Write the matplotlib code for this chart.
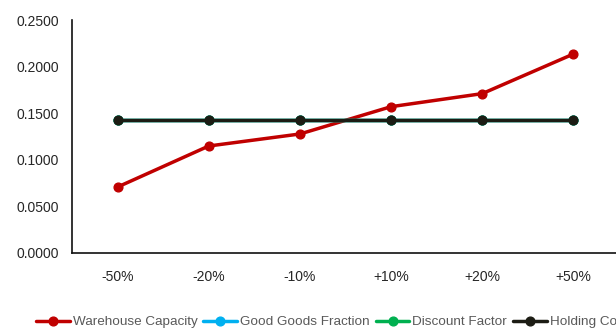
import matplotlib
matplotlib.use("Agg")
import matplotlib.pyplot as plt
from matplotlib.ticker import FormatStrFormatter

plt.rcParams['font.family'] = ['Liberation Sans', 'DejaVu Sans']

categories = ["-50%", "-20%", "-10%", "+10%", "+20%", "+50%"]
warehouse_capacity = [0.0708, 0.1148, 0.1277, 0.1570, 0.1710, 0.2135]
good_goods_fraction = [0.1425, 0.1425, 0.1425, 0.1425, 0.1425, 0.1425]
discount_factor = [0.1425, 0.1425, 0.1425, 0.1425, 0.1425, 0.1425]
holding_cost = [0.1425, 0.1425, 0.1425, 0.1425, 0.1425, 0.1425]

series = [
    ("Warehouse Capacity", warehouse_capacity, "#C00000"),
    ("Good Goods Fraction", good_goods_fraction, "#00B0F0"),
    ("Discount Factor", discount_factor, "#00B050"),
    ("Holding Cost", holding_cost, "#1C1C14"),
]

fig = plt.figure(figsize=(6.16, 3.29), dpi=100)
ax = fig.add_axes([72/616, 1-253/329, (619-72)/616, (253-20)/329])

x = list(range(len(categories)))
for name, vals, col in series:
    ax.plot(x, vals, color=col, lw=2.5, marker='o', ms=6.3, label=name,
            solid_capstyle='round', clip_on=False)

ax.set_xlim(-0.5, len(categories) - 0.5)
ax.set_ylim(0, 0.25)
ax.set_yticks([0, 0.05, 0.10, 0.15, 0.20, 0.25])
ax.yaxis.set_major_formatter(FormatStrFormatter('%.4f'))
ax.set_xticks(x)
ax.set_xticklabels(categories)
ax.tick_params(axis='both', length=0, labelsize=10, colors='#262626')
ax.tick_params(axis='y', pad=9.5)
ax.tick_params(axis='x', pad=12)
for s in ['top', 'right']:
    ax.spines[s].set_visible(False)
for s in ['left', 'bottom']:
    ax.spines[s].set_color('#111111')
    ax.spines[s].set_linewidth(1.2)

handles, labels = ax.get_legend_handles_labels()
leg = fig.legend(handles, labels, loc='center left', bbox_to_anchor=(36/616, 1-322/329),
                 ncol=4, frameon=False, fontsize=9.7, handlelength=2.5,
                 handletextpad=0.22, columnspacing=0.45, borderaxespad=0, borderpad=0)
for t in leg.get_texts():
    t.set_color('#595959')

fig.savefig("out.png", dpi=100)
